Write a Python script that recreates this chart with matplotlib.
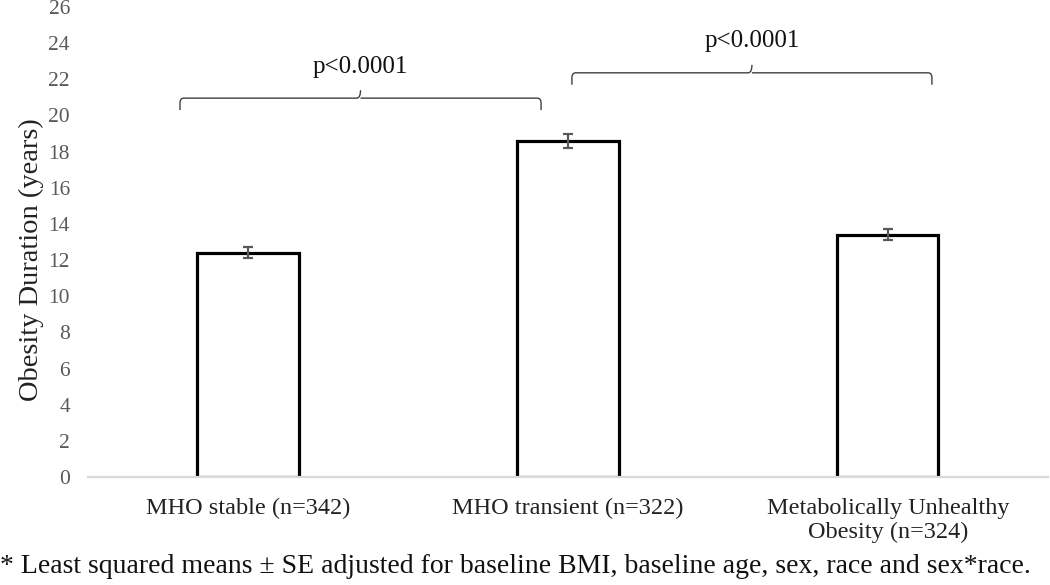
import matplotlib
matplotlib.use("Agg")
import matplotlib.pyplot as plt
from matplotlib.path import Path
from matplotlib.patches import PathPatch

plt.rcParams['font.family'] = ['Liberation Serif', 'DejaVu Serif']

categories = ["MHO stable (n=342)", "MHO transient (n=322)", "Metabolically Unhealthy\nObesity (n=324)"]
means = [12.4, 18.6, 13.4]
se = [0.3, 0.4, 0.3]
yticks = list(range(0, 27, 2))
p_labels = ["p<0.0001", "p<0.0001"]
brace_spans = [(-0.2125, 0.916), (1.0125, 2.1375)]
brace_bottoms = [20.3, 21.7]
footnote = "* Least squared means \u00b1 SE adjusted for baseline BMI, baseline age, sex, race and sex*race."

fig = plt.figure(figsize=(10.5, 5.85), dpi=100)
ax = fig.add_axes([0.0838, 0.1846, 0.9142, 0.8034])

x = list(range(len(categories)))
ax.bar(x, means, width=0.316, color="white", edgecolor="black", linewidth=2.3, zorder=2)
ax.errorbar(x, means, yerr=se, fmt="none", ecolor="#595959", elinewidth=1.6,
            capsize=3.8, capthick=1.6, zorder=3)

ax.set_xlim(-0.5, 2.5)
ax.set_ylim(0, 26)
ax.set_yticks(yticks)
ax.set_xticks(x)
ax.set_xticklabels(categories, fontsize=17.5, color="#222222", linespacing=1.2)
ax.tick_params(axis="y", labelsize=15.5, labelcolor="#595959", length=0, pad=13)
ax.tick_params(axis="x", length=0, pad=15)
for s in ["top", "right", "left"]:
    ax.spines[s].set_visible(False)
ax.spines["bottom"].set_color("#d9d9d9")
ax.spines["bottom"].set_linewidth(1.6)
ax.set_ylabel("Obesity Duration (years)", fontsize=20.5, color="#222222")
ax.yaxis.set_label_coords(-0.046, 0.462)


def brace(ax, x0, x1, ybot, height, r=0.012):
    xm = (x0 + x1) / 2
    yh = ybot + height * 0.6
    yt = ybot + height
    dy = height * 0.25
    verts = [(x0, ybot), (x0, yh - dy), (x0, yh), (x0 + r, yh),
             (xm - r, yh), (xm, yh), (xm, yt),
             (xm, yh), (xm + r, yh),
             (x1 - r, yh), (x1, yh), (x1, yh - dy), (x1, ybot)]
    codes = [Path.MOVETO, Path.LINETO, Path.CURVE3, Path.CURVE3,
             Path.LINETO, Path.CURVE3, Path.CURVE3,
             Path.MOVETO, Path.CURVE3,
             Path.LINETO, Path.CURVE3, Path.CURVE3, Path.LINETO]
    ax.add_patch(PathPatch(Path(verts, codes), facecolor="none", edgecolor="#404040",
                           linewidth=1.0, zorder=4))


for (x0, x1), yb, label in zip(brace_spans, brace_bottoms, p_labels):
    brace(ax, x0, x1, yb, 1.1)
    ax.text((x0 + x1) / 2, yb + 2.4, label, ha="center", va="center", fontsize=18, color="#111111")

fig.text(0.0, 0.031, footnote, ha="left", va="center", fontsize=20, color="#111111")

fig.savefig("out.png", dpi=100)
